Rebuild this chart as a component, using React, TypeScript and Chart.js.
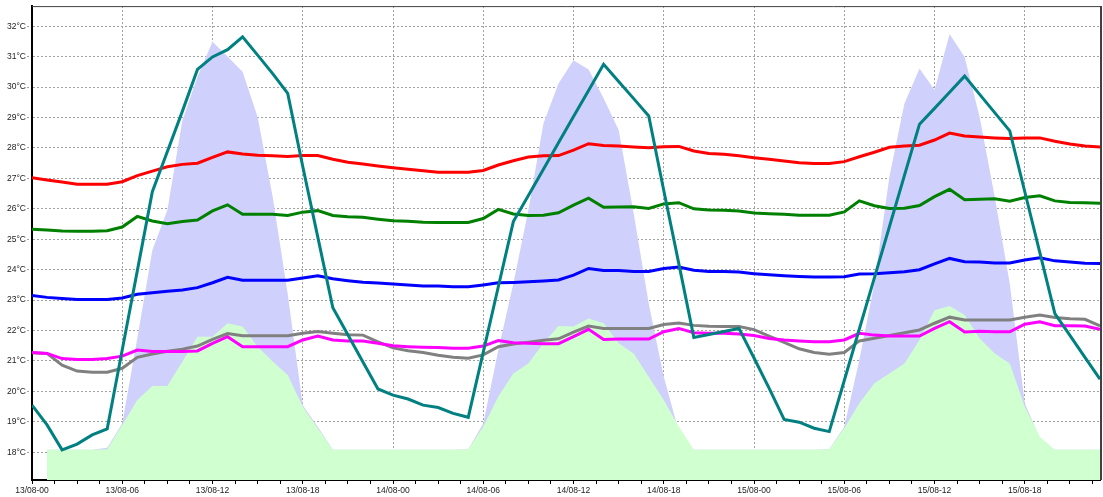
import React, { useEffect, useRef } from 'react';
import { Chart, registerables } from 'chart.js';

Chart.register(...registerables);

// x categories: hour index since 13/08 00:00
const hours: number[] = Array.from({ length: 72 }, (_, i) => i);

const xTickHours = [0, 6, 12, 18, 24, 30, 36, 42, 48, 54, 60, 66];
const xTickLabels = [
  '13/08-00', '13/08-06', '13/08-12', '13/08-18',
  '14/08-00', '14/08-06', '14/08-12', '14/08-18',
  '15/08-00', '15/08-06', '15/08-12', '15/08-18',
];
const yTicks = [18, 19, 20, 21, 22, 23, 24, 25, 26, 27, 28, 29, 30, 31, 32];

const redSeries = [
  27.02, 26.95, 26.88, 26.81, 26.81, 26.81, 26.89, 27.09, 27.24, 27.38, 27.46, 27.5, 27.69, 27.87, 27.8, 27.76, 27.74, 27.72, 27.75, 27.75, 27.63, 27.53, 27.47, 27.41, 27.35,
  27.3, 27.25, 27.2, 27.2, 27.2, 27.26, 27.44, 27.58, 27.7, 27.74, 27.75, 27.93, 28.14, 28.08, 28.06, 28.03, 28.01, 28.04, 28.05, 27.9, 27.82, 27.79, 27.74, 27.68,
  27.63, 27.57, 27.51, 27.49, 27.49, 27.55, 27.71, 27.86, 28.02, 28.06, 28.09, 28.26, 28.49, 28.39, 28.36, 28.33, 28.31, 28.33, 28.33, 28.22, 28.13, 28.06, 28.03,
];
const greenSeries = [
  25.33, 25.3, 25.27, 25.26, 25.26, 25.28, 25.4, 25.75, 25.6, 25.51, 25.58, 25.63, 25.93, 26.13, 25.82, 25.82, 25.82, 25.78, 25.89, 25.94, 25.78, 25.74, 25.72, 25.66, 25.61,
  25.59, 25.56, 25.55, 25.55, 25.55, 25.68, 25.98, 25.83, 25.78, 25.79, 25.87, 26.12, 26.35, 26.05, 26.06, 26.07, 26.01, 26.16, 26.2, 26.0, 25.96, 25.95, 25.93, 25.86,
  25.84, 25.82, 25.79, 25.79, 25.79, 25.9, 26.26, 26.1, 26.01, 26.02, 26.11, 26.4, 26.64, 26.3, 26.31, 26.33, 26.25, 26.37, 26.43, 26.26, 26.21, 26.2, 26.18,
];
const blueSeries = [
  23.15, 23.09, 23.05, 23.02, 23.02, 23.02, 23.07, 23.19, 23.24, 23.29, 23.33, 23.41, 23.57, 23.75, 23.65, 23.65, 23.65, 23.65, 23.73, 23.8, 23.7, 23.64, 23.59, 23.56, 23.53,
  23.5, 23.46, 23.46, 23.44, 23.44, 23.5, 23.57, 23.58, 23.6, 23.63, 23.66, 23.82, 24.04, 23.97, 23.97, 23.94, 23.94, 24.04, 24.09, 23.98, 23.94, 23.94, 23.92, 23.87,
  23.83, 23.8, 23.78, 23.76, 23.76, 23.77, 23.86, 23.87, 23.9, 23.93, 24.0, 24.19, 24.37, 24.26, 24.25, 24.22, 24.22, 24.32, 24.39, 24.29, 24.25, 24.21, 24.2,
];
const graySeries = [
  21.27, 21.25, 20.86, 20.67, 20.63, 20.63, 20.76, 21.12, 21.23, 21.32, 21.39, 21.49, 21.71, 21.9, 21.83, 21.83, 21.83, 21.83, 21.91, 21.97, 21.91, 21.86, 21.85, 21.63, 21.43,
  21.34, 21.28, 21.19, 21.12, 21.09, 21.2, 21.47, 21.56, 21.62, 21.68, 21.73, 21.95, 22.15, 22.07, 22.07, 22.07, 22.07, 22.2, 22.25, 22.17, 22.14, 22.13, 22.13, 22.03,
  21.82, 21.61, 21.4, 21.28, 21.22, 21.28, 21.66, 21.75, 21.84, 21.93, 22.02, 22.24, 22.44, 22.35, 22.35, 22.35, 22.35, 22.44, 22.51, 22.43, 22.39, 22.37, 22.15,
];
const magentaSeries = [
  21.28, 21.25, 21.08, 21.05, 21.05, 21.08, 21.16, 21.36, 21.31, 21.31, 21.31, 21.33, 21.58, 21.8, 21.47, 21.47, 21.47, 21.47, 21.69, 21.82, 21.69, 21.66, 21.66, 21.58, 21.5,
  21.47, 21.45, 21.44, 21.42, 21.42, 21.49, 21.67, 21.6, 21.58, 21.57, 21.57, 21.8, 22.04, 21.71, 21.72, 21.72, 21.72, 21.96, 22.07, 21.93, 21.91, 21.91, 21.89, 21.84,
  21.74, 21.69, 21.66, 21.63, 21.63, 21.69, 21.91, 21.85, 21.82, 21.82, 21.82, 22.07, 22.29, 21.95, 21.98, 21.96, 21.96, 22.21, 22.29, 22.16, 22.16, 22.15, 22.04,
];
const tealSeries = [
  19.55, 18.9, 18.08, 18.27, 18.57, 18.77, 21.37, 23.96, 26.56, 27.88, 29.21, 30.58, 30.99, 31.23, 31.65, 31.05, 30.44, 29.79, 27.39, 25.07, 22.75, 21.86, 20.97, 20.08, 19.88,
  19.75, 19.55, 19.47, 19.28, 19.15, 21.29, 23.44, 25.58, 26.44, 27.3, 28.17, 29.03, 29.89, 30.75, 30.18, 29.62, 29.05, 26.6, 24.2, 21.77, 21.87, 21.97, 22.07, 21.1,
  20.11, 19.08, 18.99, 18.79, 18.68, 20.36, 22.05, 23.73, 25.41, 27.1, 28.78, 29.3, 29.83, 30.36, 29.76, 29.16, 28.56, 26.56, 24.56, 22.56, 21.84, 21.12, 20.4,
];
const lavenderArea = [
  null, 18.08, 18.08, 18.08, 18.08, 18.15, 18.95, 21.75, 24.64, 25.96, 28.91, 30.34, 31.49, 31.0, 30.5, 29.02, 26.4, 23.2, 19.55, 18.84, 18.08, 18.08, 18.08, 18.08, 18.08,
  18.08, 18.08, 18.08, 18.08, 18.1, 18.95, 21.36, 23.55, 25.96, 28.8, 30.12, 30.88, 30.58, 29.63, 28.59, 25.85, 22.89, 20.48, 18.68, 18.08, 18.08, 18.08, 18.08, 18.08,
  18.08, 18.08, 18.08, 18.08, 18.1, 18.84, 21.03, 23.55, 27.05, 29.46, 30.61, 29.9, 31.74, 30.99, 29.02, 26.4, 23.55, 19.61, 18.46, 18.08, 18.08, 18.08, 18.08,
];
const lightGreenArea = [
  null, 18.08, 18.08, 18.08, 18.08, 18.1, 18.9, 19.72, 20.18, 20.18, 20.98, 21.8, 21.8, 22.24, 22.13, 21.47, 20.98, 20.54, 19.5, 18.79, 18.08, 18.08, 18.08, 18.08, 18.08,
  18.08, 18.08, 18.08, 18.08, 18.1, 18.84, 19.83, 20.59, 20.92, 21.58, 22.15, 22.13, 22.4, 22.24, 21.58, 21.25, 20.48, 19.72, 18.84, 18.08, 18.08, 18.08, 18.08, 18.08,
  18.08, 18.08, 18.08, 18.08, 18.1, 18.79, 19.61, 20.27, 20.59, 20.92, 21.69, 22.67, 22.81, 22.51, 21.74, 21.25, 20.92, 19.5, 18.51, 18.08, 18.08, 18.08, 18.08,
];

const FONT = { family: "'Liberation Sans', Arial, sans-serif", size: 8.5 };

export default function App() {
  const ref = useRef<HTMLCanvasElement>(null);

  useEffect(() => {
    if (!ref.current) return;
    const frame = {
      id: 'frame',
      afterDraw(chart: any) {
        const { ctx, chartArea: a } = chart;
        ctx.save();
        ctx.strokeStyle = '#404040';
        ctx.lineWidth = 1;
        ctx.beginPath();
        ctx.moveTo(a.left, a.top + 0.5);
        ctx.lineTo(a.right + 0.5, a.top + 0.5);
        ctx.stroke();
        ctx.lineWidth = 2;
        ctx.beginPath();
        ctx.moveTo(a.right + 1, a.top);
        ctx.lineTo(a.right + 1, a.bottom);
        ctx.stroke();
        ctx.restore();
      },
    };

    const line = (data: number[], color: string, order: number) => ({
      data,
      borderColor: color,
      backgroundColor: color,
      borderWidth: 3,
      pointRadius: 0,
      fill: false,
      order,
    });
    const area = (data: (number | null)[], color: string, order: number) => ({
      data,
      borderColor: color,
      backgroundColor: color,
      borderWidth: 0,
      pointRadius: 0,
      fill: 'start',
      order,
    });

    const chart = new Chart(ref.current, {
      type: 'line',
      data: {
        labels: hours,
        datasets: [
          line(tealSeries, '#008080', 0),
          line(redSeries, '#ff0000', 1),
          line(greenSeries, '#008000', 2),
          line(blueSeries, '#0000ff', 3),
          line(magentaSeries, '#ff00ff', 4),
          line(graySeries, '#808080', 5),
          area(lightGreenArea, '#d0ffd0', 10),
          area(lavenderArea, '#d0d0fc', 11),
        ] as any,
      },
      options: {
        responsive: false,
        animation: false,
        layout: { padding: { top: 6, right: 3, left: 0, bottom: 0 } },
        plugins: { legend: { display: false }, tooltip: { enabled: false } },
        elements: { point: { radius: 0 }, line: { tension: 0 } },
        scales: {
          x: {
            type: 'linear',
            min: 0,
            max: 71,
            afterBuildTicks: (s: any) => {
              const t: { value: number }[] = [];
              for (let v = 0; v <= 71; v += 1.5) t.push({ value: v });
              s.ticks = t;
            },
            afterFit: (s: any) => { s.height = 17; },
            ticks: {
              autoSkip: false,
              maxRotation: 0,
              minRotation: 0,
              padding: 2,
              color: '#222',
              font: FONT,
              callback: (v: any) => {
                const i = xTickHours.indexOf(Number(v));
                return i >= 0 ? xTickLabels[i] : '';
              },
            },
            grid: {
              color: (c: any) =>
                c.tick && c.tick.value !== 0 && xTickHours.includes(c.tick.value) ? '#a0a0a0' : 'rgba(0,0,0,0)',
              tickColor: '#000',
              tickLength: 4,
              lineWidth: 1,
            },
            border: { color: '#000', width: 2, dash: [2, 2] },
          },
          y: {
            type: 'linear',
            min: 17.09,
            max: 32.66,
            afterBuildTicks: (s: any) => { s.ticks = yTicks.map((v) => ({ value: v })); },
            afterFit: (s: any) => { s.width = 32; },
            ticks: {
              padding: 1,
              color: '#222',
              font: FONT,
              callback: (v: any) => `${v}°C`,
            },
            grid: {
              color: '#a0a0a0',
              tickColor: '#a0a0a0',
              tickLength: 5,
              lineWidth: 1,
              tickBorderDash: [2, 2],
            },
            border: { color: '#000', width: 2, dash: [2, 2] },
          },
        },
      } as any,
      plugins: [frame],
    });
    return () => chart.destroy();
  }, []);

  return (
    <div style={{ position: 'absolute', left: 0, top: 0, width: 1103, height: 497 }}>
      <canvas ref={ref} width={1103} height={497} style={{ display: 'block', width: 1103, height: 497 }} />
    </div>
  );
}
